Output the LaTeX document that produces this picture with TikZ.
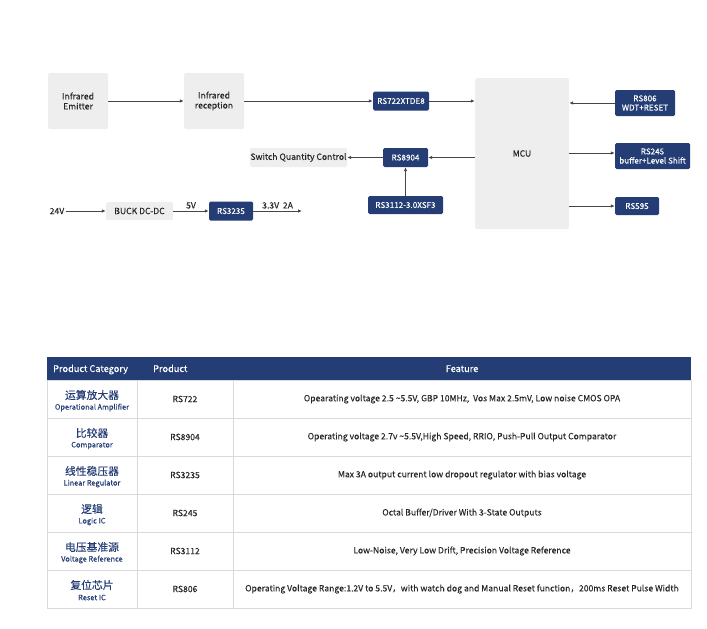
\documentclass[tikz,border=0pt]{standalone}
\usepackage{fontspec}
\setmainfont{Noto Sans CJK SC}[FakeBold=0.1]
\usetikzlibrary{arrows.meta}
\definecolor{chipblue}{RGB}{36,61,117}
\definecolor{boxgray}{RGB}{238,238,238}
\definecolor{linegray}{RGB}{70,70,70}
\definecolor{gridgray}{RGB}{218,218,218}
\definecolor{txtgray}{RGB}{40,40,40}

\begin{document}
\begin{tikzpicture}[x=1pt,y=-1pt,
    graybox/.style={fill=boxgray, rounded corners=1.5pt, text=txtgray, align=center, inner sep=0pt, font=\fontsize{8.6}{10}\selectfont},
    chip/.style={fill=chipblue, rounded corners=1.5pt, text=white, align=center, inner sep=0pt, font=\fontsize{8.1}{9.2}\selectfont},
    lbl/.style={text=txtgray, inner sep=2pt, font=\fontsize{8.6}{10}\selectfont},
    wire/.style={draw=linegray, line width=0.8pt, -{Latex[length=4pt,width=3.5pt]}},
    zh/.style={text=chipblue, inner sep=0pt, font=\fontsize{10.8}{12}\selectfont},
    en/.style={text=chipblue, inner sep=0pt, font=\fontsize{7.4}{8}\selectfont},
    cell/.style={text=txtgray, inner sep=0pt, font=\fontsize{8.6}{10}\selectfont},
    head/.style={text=white, inner sep=0pt, anchor=base west, font=\fontsize{9.2}{10}\selectfont}]
\useasboundingbox (0,0) rectangle (707,629);

% block diagram
\node[graybox, minimum width=60, minimum height=56] (emit) at (78,101) {Infrared\\Emitter};
\node[graybox, minimum width=60, minimum height=56] (recv) at (214,101) {Infrared\\reception};
\node[chip, minimum width=56, minimum height=19] (rs722) at (401,101) {RS722XTDE8};
\node[graybox, minimum width=94, minimum height=151] (mcu) at (522,153.5) {MCU};
\node[chip, minimum width=60, minimum height=26] (rs806) at (645,103) {RS806\\WDT+RESET};
\node[chip, minimum width=75, minimum height=26] (rs245) at (652.5,156) {RS245\\buffer+Level Shift};
\node[chip, minimum width=44, minimum height=18] (rs595) at (637,206) {RS595};
\node[chip, minimum width=45, minimum height=19] (rs8904) at (405.5,157.5) {RS8904};
\node[chip, minimum width=75, minimum height=18] (rs3112) at (405.5,205) {RS3112-3.0XSF3};
\node[graybox, minimum width=97, minimum height=19] (sqc) at (298.5,157.5) {Switch Quantity Control};
\node[lbl] (vin) at (57,211) {24V};
\node[graybox, minimum width=67, minimum height=18] (buck) at (139.5,211) {BUCK DC-DC};
\node[chip, minimum width=44, minimum height=19] (rs3235) at (231,211) {RS3235};
\coordinate (vout) at (302,211);

\draw[wire] (emit) -- (recv);
\draw[wire] (recv.east) -- (recv.east -| rs722.west);
\draw[wire] (rs722.east) -- (rs722.east -| mcu.west);
\draw[wire] (rs806.west) -- (rs806.west -| mcu.east);
\draw[wire] (mcu.east |- 0,153) -- (rs245.west |- 0,153);
\draw[wire] (rs595.west -| mcu.east) -- (rs595.west);
\draw[wire] (rs8904.east -| mcu.west) -- (rs8904.east);
\draw[wire] (rs8904) -- (sqc);
\draw[wire] (rs3112) -- (rs8904);
\draw[wire] (vin) -- (buck);
\draw[wire] (buck) -- node[lbl, above] {5V} (rs3235);
\draw[wire] (rs3235.east) -- node[lbl, above] {3.3V~~2A} (vout);

% table
\fill[chipblue] (47,357) rectangle (691,380);
\node[head] (hcat) at (53,372) {Product Category};
\node[head] (hprod) at (153,372) {Product};
\node[head, anchor=base] (hfeat) at (462,372) {Feature};
\draw[gridgray, line width=1pt] (47,380) rectangle (691,608);
\foreach \y in {418,456,494,532,570}
  \draw[gridgray, line width=1pt] (47,\y) -- (691,\y);
\draw[gridgray, line width=1pt] (137,380) -- (137,608) (233,380) -- (233,608);

\node[zh] (z1) at (92,395) {运算放大器};
\node[en] (e1) at (92,407.5) {Operational Amplifier};
\node[cell] (p1) at (185,399) {RS722};
\node[cell] (f1) at (462,399) {Opearating voltage 2.5 \textasciitilde5.5V, GBP 10MHz,\ \ Vos Max 2.5mV, Low noise CMOS OPA};

\node[zh] (z2) at (92,433) {比较器};
\node[en] (e2) at (92,445.5) {Comparator};
\node[cell] (p2) at (185,437) {RS8904};
\node[cell] (f2) at (462,437) {Operating voltage 2.7v \textasciitilde5.5V,High Speed, RRIO, Push-Pull Output Comparator};

\node[zh] (z3) at (92,471) {线性稳压器};
\node[en] (e3) at (92,483.5) {Linear Regulator};
\node[cell] (p3) at (185,475) {RS3235};
\node[cell] (f3) at (462,475) {Max 3A output current low dropout regulator with bias voltage};

\node[zh] (z4) at (92,509) {逻辑};
\node[en] (e4) at (92,521.5) {Logic IC};
\node[cell] (p4) at (185,513) {RS245};
\node[cell] (f4) at (462,513) {Octal Buffer/Driver With 3-State Outputs};

\node[zh] (z5) at (92,547) {电压基准源};
\node[en] (e5) at (92,559.5) {Voltage Reference};
\node[cell] (p5) at (185,551) {RS3112};
\node[cell] (f5) at (462,551) {Low-Noise, Very Low Drift, Precision Voltage Reference};

\node[zh] (z6) at (92,585) {复位芯片};
\node[en] (e6) at (92,597.5) {Reset IC};
\node[cell] (p6) at (185,589) {RS806};
\node[cell] (f6) at (462,589) {Operating Voltage Range:1.2V to 5.5V，with watch dog and Manual Reset function，200ms Reset Pulse Width};
\end{tikzpicture}
\end{document}
